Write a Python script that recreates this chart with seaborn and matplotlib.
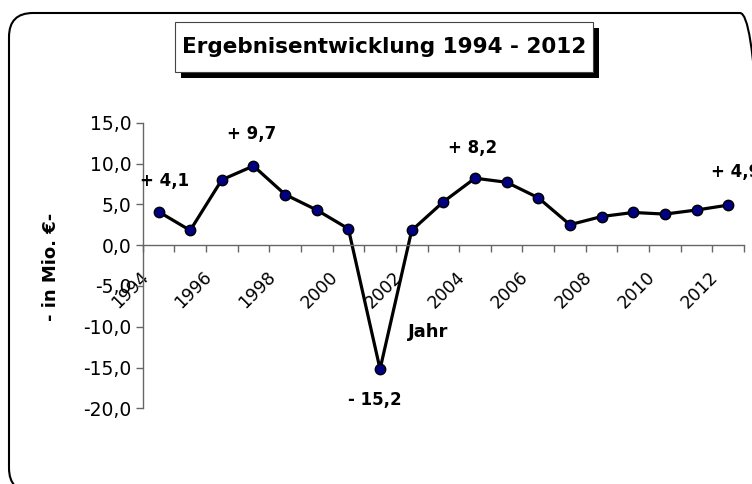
import numpy as np
import pandas as pd
import matplotlib
matplotlib.use('Agg')
import matplotlib.pyplot as plt
import matplotlib.transforms as mtransforms
from matplotlib.patches import FancyBboxPatch, Rectangle
from matplotlib.ticker import FuncFormatter
import seaborn as sns

# Ergebnis je Jahr in Mio. EUR
years = list(range(1994, 2013))
result = [4.1, 1.8, 8.0, 9.7, 6.2, 4.3, 2.0, -15.2, 1.8, 5.3,
          8.2, 7.7, 5.8, 2.5, 3.5, 4.0, 3.8, 4.3, 4.9]
label_years = [1994, 1997, 2001, 2004, 2012]
label_texts = ['+ 4,1', '+ 9,7', '- 15,2', '+ 8,2', '+ 4,9']
label_offsets = [(6, 31), (-2, 32), (-5, -31), (-2, 30), (7, 33)]
tick_years = list(range(1994, 2013, 2))
title = 'Ergebnisentwicklung 1994 - 2012'

sns.set_style('white')
plt.rcParams['font.family'] = ['DejaVu Sans']
plt.rcParams.update({'text.color': 'black', 'axes.labelcolor': 'black',
                     'xtick.color': 'black', 'ytick.color': 'black'})

W, H = 752, 484
fig = plt.figure(figsize=(W / 100, H / 100), dpi=100)
px = mtransforms.IdentityTransform()

# outer rounded frame (runs off the right and bottom edges like the original)
frame = FancyBboxPatch((9, -8), 755, H - 13 + 8,
                       boxstyle='round,pad=0,rounding_size=24',
                       transform=px, facecolor='none', edgecolor='black', lw=1.5)
fig.patches.append(frame)

# title box with shadow
fig.patches.append(Rectangle((181, H - 78), 418, 50, transform=px,
                             facecolor='black', edgecolor='none'))
fig.patches.append(Rectangle((175, H - 72), 418, 50, transform=px,
                             facecolor='white', edgecolor='#444444', lw=0.8))
fig.text(384 / W, 1 - 47 / H, title, ha='center', va='center',
         fontsize=15.5, fontweight='bold')

ax = fig.add_axes([142.7 / W, 1 - 408.3 / H, 601.3 / W, 285.6 / H])
ax.patch.set_alpha(0)

df = pd.DataFrame({'Jahr': years, 'Ergebnis': result})
sns.lineplot(data=df, x='Jahr', y='Ergebnis', ax=ax, color='black', lw=2.3,
             marker='o', markersize=7.5, markerfacecolor='#000080',
             markeredgecolor='black', markeredgewidth=1)

for yr, txt, off in zip(label_years, label_texts, label_offsets):
    ax.annotate(txt, xy=(yr, result[years.index(yr)]), xytext=off,
                textcoords='offset pixels', ha='center', va='center',
                fontsize=12, fontweight='bold', annotation_clip=False)

axis_col = '#666666'
ax.set_xlim(1993.5, 2012.5)
ax.set_ylim(-20, 15)
ax.spines[['top', 'right']].set_visible(False)
ax.spines['bottom'].set_position(('data', 0))
for s in ['left', 'bottom']:
    ax.spines[s].set_color(axis_col)
    ax.spines[s].set_linewidth(1)

ax.set_yticks(np.arange(-20, 16, 5))
ax.yaxis.set_major_formatter(FuncFormatter(lambda v, _: f'{v:.1f}'.replace('.', ',')))
ax.tick_params(axis='y', left=True, length=5, width=1, color=axis_col,
               direction='out', labelsize=13.5, pad=3)

ax.set_xticks(tick_years)
ax.set_xticklabels([str(y) for y in tick_years])
ax.set_xticks(np.arange(1993.5, 2013, 1), minor=True)
ax.tick_params(axis='x', which='major', bottom=True, length=0, pad=0, labelsize=12.5)
ax.tick_params(axis='x', which='minor', bottom=True, length=5, width=1,
               color=axis_col, direction='out')
shift = mtransforms.ScaledTranslation(-19 / 100, -23 / 100, fig.dpi_scale_trans)
for lab in ax.get_xticklabels():
    lab.set_rotation(45)
    lab.set_ha('right')
    lab.set_va('top')
    lab.set_rotation_mode('anchor')
    lab.set_transform(lab.get_transform() + shift)

ax.set_xlabel('Jahr', fontsize=13, fontweight='bold')
ax.xaxis.set_label_coords(0.474, 0.267)
ax.xaxis.label.set_va('center')
ax.set_ylabel('- in Mio. €-', fontsize=13, fontweight='bold')
ax.yaxis.set_label_coords(-0.152, 0.495)
ax.yaxis.label.set_va('center')

fig.savefig('out.png', dpi=100)
